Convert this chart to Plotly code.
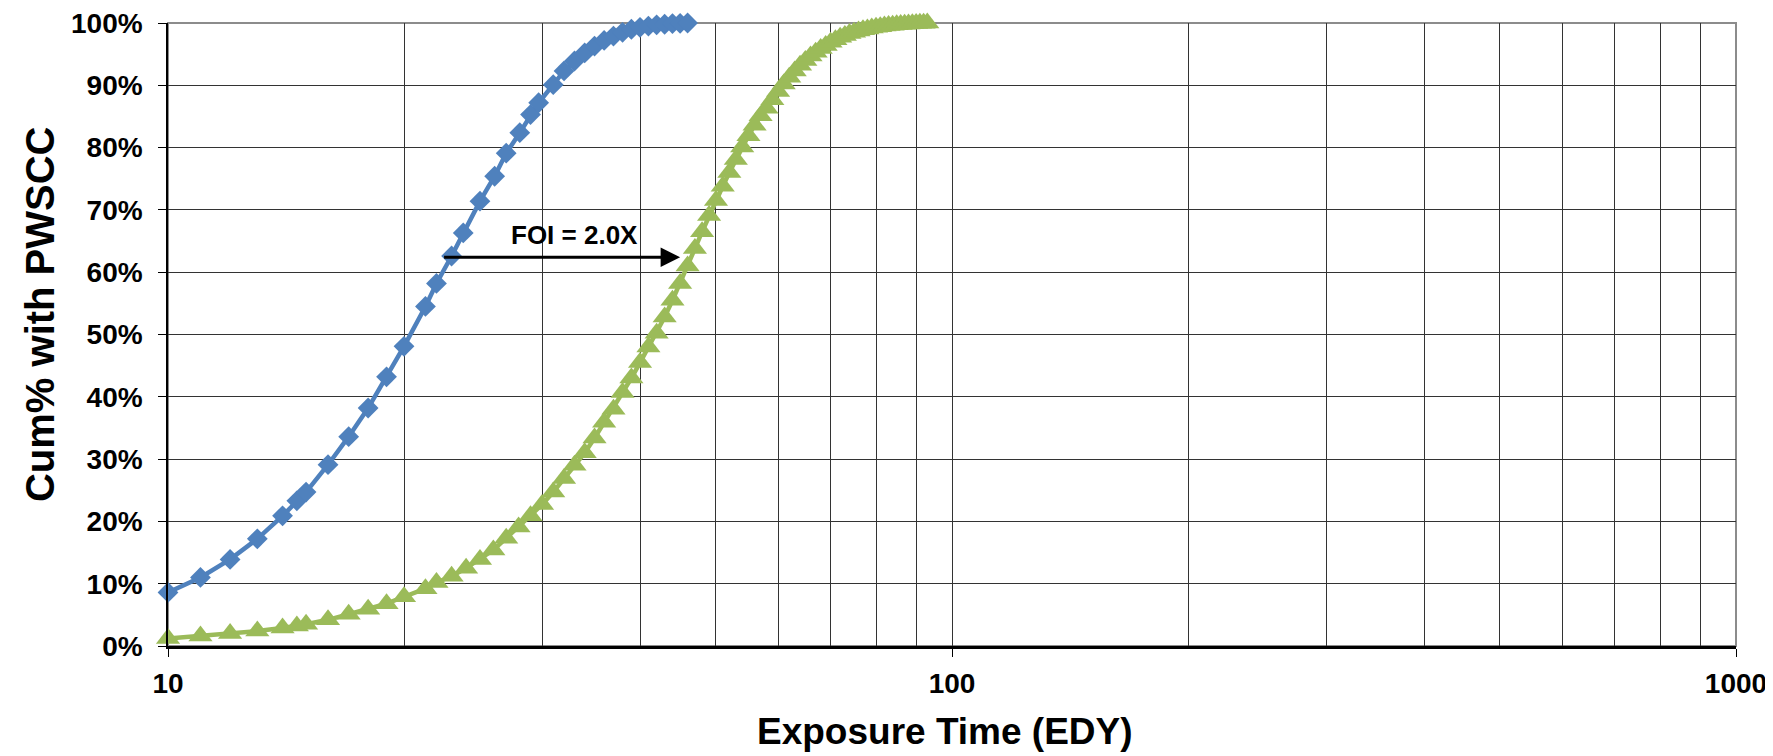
import numpy as np
import plotly.graph_objects as go

# Blue series (diamonds): exposure time (EDY) and cumulative % with PWSCC
blue_x = [10, 11, 12, 13, 14, 14.6, 15, 16, 17, 18, 19, 20, 21.3, 22, 23, 23.8, 25, 26.1,
          27, 28.1, 29, 29.7, 31, 32, 33, 34, 35, 36, 37, 38, 39, 40, 41, 42, 43, 44, 45, 46]
blue_y = [8.6, 11.0, 13.9, 17.2, 20.9, 23.3, 24.7, 29.1, 33.6, 38.2, 43.2, 48.1, 54.5, 58.2,
          62.6, 66.3, 71.4, 75.4, 79.1, 82.4, 85.3, 87.2, 90.1, 92.3, 93.9, 95.2, 96.3, 97.2,
          97.9, 98.5, 99.0, 99.3, 99.5, 99.7, 99.8, 99.9, 99.95, 100]

# Green series (triangles)
green_x = [10, 11, 12, 13, 14, 14.6, 15, 16, 17, 18, 19, 20, 21.3, 22, 23, 24, 25, 26, 27, 28,
           29, 30, 31, 32, 33, 34, 35, 36, 37, 38, 39, 40, 41, 42, 43, 44, 45, 46, 47, 48, 49,
           50, 51, 52, 53, 54, 55, 56, 57, 58, 59, 60, 61, 62, 63, 64, 65, 66, 67, 68, 69, 70,
           71, 72, 73, 74, 75, 76, 77, 78, 79, 80, 81, 82, 83, 84, 85, 86, 87, 88, 89, 90, 91,
           92, 93]
green_y = [1.2, 1.6, 2.0, 2.4, 2.9, 3.2, 3.5, 4.2, 5.1, 5.9, 6.8, 7.9, 9.2, 10.2, 11.2, 12.5,
           13.9, 15.4, 17.3, 19.1, 20.9, 22.7, 24.7, 26.9, 29.0, 31.0, 33.4, 35.9, 38.0, 40.7,
           43.0, 45.5, 48.0, 50.2, 52.8, 55.5, 58.2, 61.0, 63.8, 66.5, 69.1, 71.5, 73.8, 76.0,
           78.1, 80.1, 81.9, 83.6, 85.1, 86.3, 87.7, 89.0, 90.2, 91.3, 92.3, 93.2, 94.0, 94.7,
           95.3, 95.9, 96.4, 96.9, 97.3, 97.7, 98.0, 98.3, 98.5, 98.7, 98.9, 99.05, 99.2, 99.3,
           99.4, 99.5, 99.58, 99.65, 99.7, 99.75, 99.8, 99.85, 99.88, 99.91, 99.94, 99.97, 100]

x_ticks = [10, 100, 1000]
x_minor = [20, 30, 40, 50, 60, 70, 80, 90, 200, 300, 400, 500, 600, 700, 800, 900]

# FOI arrow (from blue curve to green curve at ~62% level)
foi_label = "FOI = 2.0X"
foi_label_pos = (33.0, 66.0)
foi_arrow_from = (22.4, 62.4)
foi_arrow_to = (45.0, 62.4)

BLUE = "#4F81BD"
GREEN = "#9BBB59"
FONT = "Liberation Sans, Arial, sans-serif"
GRID = "#333333"

fig = go.Figure()
fig.add_trace(go.Scatter(
    x=blue_x, y=blue_y, mode="lines+markers",
    line=dict(color=BLUE, width=4.5),
    marker=dict(symbol="diamond", size=16, color=BLUE),
    cliponaxis=False, showlegend=False))
fig.add_trace(go.Scatter(
    x=green_x, y=green_y, mode="lines+markers",
    line=dict(color=GREEN, width=4.5),
    marker=dict(symbol="triangle-up", size=21, color=GREEN),
    cliponaxis=False, showlegend=False))

# page body has an 8px default margin: figure is sized/offset to compensate
fig.update_layout(
    width=1765, height=748,
    margin=dict(l=160, r=37, t=15, b=110, autoexpand=False),
    paper_bgcolor="white", plot_bgcolor="white",
    font=dict(family=FONT, color="black"),
)

fig.update_xaxes(
    type="log", range=[1, 3], automargin=False,
    tickvals=x_ticks, ticktext=[str(v) for v in x_ticks],
    tickfont=dict(size=28, family=FONT, weight="bold", color="black"),
    ticks="outside", ticklen=8, tickcolor="black", tickwidth=1,
    ticklabelstandoff=3, ticklabeloverflow="allow",
    showgrid=True, gridcolor=GRID, gridwidth=1,
    minor=dict(tickvals=x_minor, showgrid=True, gridcolor=GRID, gridwidth=1, ticks=""),
    showline=True, linecolor="black", linewidth=2.5,
    zeroline=False,
)
fig.update_yaxes(
    range=[0, 100], dtick=10, ticksuffix="%", automargin=False,
    tickfont=dict(size=28, family=FONT, weight="bold", color="black"),
    ticks="outside", ticklen=8, tickcolor="black", tickwidth=1,
    ticklabelstandoff=10, ticklabeloverflow="allow",
    showgrid=True, gridcolor=GRID, gridwidth=1,
    showline=True, linecolor="black", linewidth=1.5,
    zeroline=False,
)

# plot-area border (gray, top/right)
fig.add_shape(type="rect", xref="x domain", yref="y domain", x0=0, x1=1, y0=0, y1=1,
              line=dict(color="#8c8c8c", width=2), layer="below")

# axis titles
fig.add_annotation(text="Exposure Time (EDY)", xref="paper", yref="paper",
                   x=0.4954, y=-0.137, xanchor="center", yanchor="middle", showarrow=False,
                   font=dict(size=37, family=FONT, weight="bold", color="black"))
fig.add_annotation(text="Cum% with PWSCC", xref="paper", yref="paper",
                   x=-0.082, y=0.5335, xanchor="center", yanchor="middle", showarrow=False,
                   textangle=-90,
                   font=dict(size=40, family=FONT, weight="bold", color="black"))

# FOI label and arrow
fig.add_annotation(text=foi_label, x=np.log10(foi_label_pos[0]), y=foi_label_pos[1],
                   xref="x", yref="y", showarrow=False, xanchor="center", yanchor="middle",
                   font=dict(size=26, family=FONT, weight="bold", color="black"))
fig.add_annotation(text="", x=np.log10(foi_arrow_to[0]), y=foi_arrow_to[1],
                   ax=np.log10(foi_arrow_from[0]), ay=foi_arrow_from[1],
                   xref="x", yref="y", axref="x", ayref="y",
                   showarrow=True, arrowhead=2, arrowsize=1.3, arrowwidth=3,
                   arrowcolor="black", standoff=0, startstandoff=0)

fig.write_html("out.html")
